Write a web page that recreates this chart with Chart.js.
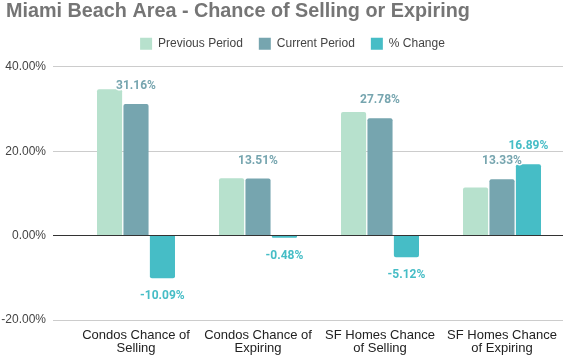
<!DOCTYPE html>
<html><head><meta charset="utf-8">
<script src="https://cdn.jsdelivr.net/npm/chart.js@4"></script>
<style>html,body{margin:0;padding:0;background:#fff}canvas{display:block}</style>
</head><body>
<canvas id="c" width="563" height="357"></canvas>
<script>
const chartTitle = "Miami Beach Area - Chance of Selling or Expiring";
const categories = [["Condos Chance of","Selling"],["Condos Chance of","Expiring"],["SF Homes Chance","of Selling"],["SF Homes Chance","of Expiring"]];
const seriesNames = ["Previous Period","Current Period","% Change"];
const previousPeriod = [34.66, 13.58, 29.28, 11.40];
const currentPeriod = [31.16, 13.51, 27.78, 13.33];
const percentChange = [-10.09, -0.48, -5.12, 16.89];
const yMin = -20, yMax = 40, yStep = 20;

const colors = ["#b7e1cd", "#76a5af", "#46bdc6"];

const valueLabels = {
  id: 'valueLabels',
  afterDatasetsDraw(chart) {
    const ctx = chart.ctx;
    chart.data.datasets.forEach((ds, di) => {
      if (!ds.showValues) return;
      const meta = chart.getDatasetMeta(di);
      meta.data.forEach((bar, i) => {
        const v = ds.data[i];
        const y = v >= 0 ? bar.y - 18 : bar.y + 18;
        const t = v.toFixed(2) + '%';
        ctx.save();
        ctx.font = 'bold 12px Roboto';
        ctx.textAlign = 'center';
        ctx.textBaseline = 'middle';
        ctx.lineJoin = 'round';
        ctx.lineWidth = 3;
        ctx.strokeStyle = '#ffffff';
        ctx.strokeText(t, bar.x, y);
        ctx.fillStyle = ds.backgroundColor;
        ctx.fillText(t, bar.x, y);
        ctx.restore();
      });
    });
  }
};

// extra space below the legend, and let y tick labels use the left margin
const layoutTweaks = {
  id: 'layoutTweaks',
  beforeInit(chart) {
    const lg = chart.legend;
    if (lg) {
      const origFit = lg.fit;
      lg.fit = function () { origFit.call(this); this.height += 7; };
    }
  },
  afterLayout(chart) {
    chart.scales.y.left = 0;
    if (chart.legend) chart.legend.left = 22;
  }
};

new Chart(document.getElementById('c'), {
  type: 'bar',
  data: {
    labels: categories,
    datasets: [
      { label: seriesNames[0], data: previousPeriod, backgroundColor: colors[0], borderWidth: 0, borderRadius: 2, showValues: false },
      { label: seriesNames[1], data: currentPeriod, backgroundColor: colors[1], borderWidth: 0, borderRadius: 2, showValues: true },
      { label: seriesNames[2], data: percentChange, backgroundColor: colors[2], borderWidth: 0, borderRadius: 2, showValues: true }
    ]
  },
  options: {
    responsive: false,
    animation: false,
    devicePixelRatio: 1,
    categoryPercentage: 0.65,
    barPercentage: 0.95,
    layout: { padding: { left: 6, right: 0, top: 0, bottom: 0 } },
    plugins: {
      title: {
        display: true, text: chartTitle, align: 'start', color: '#757575',
        font: { family: 'Liberation Sans', size: 19.8, weight: 'bold', lineHeight: 1.0 },
        padding: { top: 2, bottom: 0 }
      },
      legend: {
        display: true,
        labels: {
          boxWidth: 12, boxHeight: 12, padding: 16, color: '#444',
          font: { family: 'Liberation Sans', size: 12 }
        }
      },
      tooltip: { enabled: false }
    },
    scales: {
      x: {
        grid: { display: false },
        border: { display: false },
        ticks: { color: '#222', padding: 1, maxRotation: 0, autoSkip: false,
          font: { family: 'Liberation Sans', size: 13, lineHeight: 1.0 } },
        afterFit(s) { s.height = 37; }
      },
      y: {
        min: yMin, max: yMax,
        border: { display: false },
        grid: {
          color: (c) => c.tick && c.tick.value === 0 ? '#333333' : '#cccccc',
          tickColor: (c) => c.tick && c.tick.value === 0 ? '#333333' : '#cccccc',
          tickLength: 22, drawTicks: true
        },
        ticks: { stepSize: yStep, padding: 7, color: '#444',
          font: { family: 'Liberation Sans', size: 12 },
          callback: (v) => v.toFixed(2) + '%' },
        afterFit(s) { s.width = 69; }
      }
    }
  },
  plugins: [valueLabels, layoutTweaks]
});
</script>
</body></html>
